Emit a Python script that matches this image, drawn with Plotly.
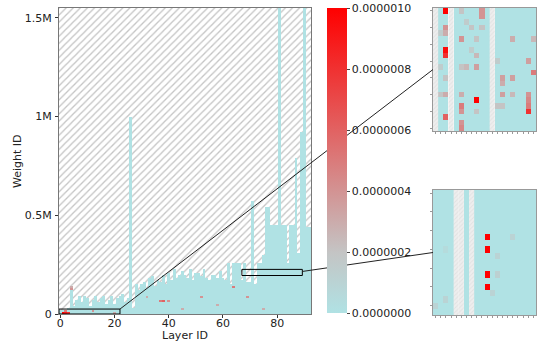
import plotly.graph_objects as go

# ---------------- data ----------------
N_LAYERS = 93
ROW = 10000            # weights per heatmap row in the overview
Y_MAX = 1550000

# number of weights per layer (thousands)
LAYER_SIZE_K = [
    15, 20, 10, 25, 135, 40, 70, 85, 60, 85,
    75, 40, 70, 85, 55, 80, 85, 45, 65, 85,
    50, 75, 90, 95, 60, 80, 1000, 30, 150, 120,
    150, 160, 130, 175, 185, 140, 165, 160, 195, 150,
    205, 170, 225, 180, 195, 220, 200, 175, 225, 170,
    205, 210, 185, 225, 180, 170, 200, 195, 175, 220,
    175, 170, 255, 150, 260, 255, 260, 170, 260, 160,
    155, 567, 150, 264, 264, 300, 540, 540, 450, 450,
    450, 1550, 450, 450, 264, 450, 450, 790, 308, 920,
    1550, 440, 440,
]

# sensitive weights in the overview: (layer, weight id, value)
SPECK_LAYER = [1, 2, 3, 2, 4, 4, 12, 20, 37, 38, 40, 32, 52, 64, 69, 45, 58, 75]
SPECK_WEIGHT = [5000, 5000, 5000, 15000, 125000, 135000, 15000, 5000, 65000, 65000,
                65000, 85000, 85000, 135000, 85000, 25000, 45000, 25000]
SPECK_VALUE = [1.0e-6, 9e-7, 8e-7, 5e-7, 4e-7, 3e-7, 4e-7, 3e-7, 5e-7, 6e-7,
               4e-7, 3e-7, 4e-7, 5e-7, 4e-7, 3e-7, 3e-7, 3e-7]

# zoomed regions (layer range, weight range)
ZOOM1_X = [-0.5, 22.0]
ZOOM1_Y = [0, 25000]
ZOOM2_X = [67.0, 89.3]
ZOOM2_Y = [195000, 226000]

# inset 1 (20 x 22 cells)
IN1_COLS, IN1_ROWS = 20, 22
IN1_STRIPES = [0, 3, 11]
IN1_COL = [2, 2, 2, 2, 2, 2, 2, 2, 1, 1, 1, 5, 5, 5, 5, 5, 5, 5, 5, 6, 6, 7, 7,
           8, 8, 8, 8, 8, 9, 9, 9, 12, 12, 13, 13, 13, 13, 15, 15, 15,
           18, 18, 18, 18, 18, 19, 19]
IN1_ROW = [0, 3, 4, 7, 8, 12, 15, 19, 4, 10, 15, 0, 5, 10, 15, 17, 18, 20, 21, 2, 10, 3, 7,
           5, 8, 10, 16, 18, 0, 1, 3, 9, 17, 12, 13, 15, 17, 5, 12, 15,
           9, 15, 16, 17, 18, 5, 11]
IN1_VAL_E7 = [10, 4, 3, 9.5, 8, 2, 3, 6, 1.5, 1.5, 2, 2, 4, 2, 3, 5, 4, 4, 4.5, 1.5, 2.5, 2, 1.5,
              2, 2.5, 3.5, 10, 2, 4, 4, 2, 1.5, 2, 3.5, 3, 3.5, 2, 3, 3.5, 2.5,
              3.5, 4, 4.5, 5, 8, 2.5, 5]

# inset 2 (20 x 20 cells)
IN2_COLS, IN2_ROWS = 20, 20
IN2_STRIPES = [4, 5, 7]
IN2_COL = [10, 10, 10, 10, 15, 12, 12, 11, 2, 0, 2]
IN2_ROW = [7, 9, 13, 15, 7, 10, 13, 16, 17, 18, 9]
IN2_VAL_E7 = [10, 10, 10, 10, 1, 1, 1.2, 1, 1, 1, 0.5]

CB_TICKS = [0, 2e-7, 4e-7, 6e-7, 8e-7, 1e-6]
X_TICKS = [0, 20, 40, 60, 80]
Y_TICKS = [0, 500000, 1000000, 1500000]
Y_TICK_TEXT = ["0", "0.5M", "1M", "1.5M"]
X_TITLE = "Layer ID"
Y_TITLE = "Weight ID"

# ---------------- layout geometry ----------------
W, H = 542, 347
MAIN_X = [59 / W, 311 / W]
MAIN_Y = [(H - 314) / H, (H - 8) / H]
IN1_XD = [433 / W, 536 / W]
IN1_YD = [(H - 131) / H, (H - 8) / H]
IN2_XD = [433 / W, 536 / W]
IN2_YD = [(H - 315) / H, (H - 190) / H]
X_RANGE = [-0.5, N_LAYERS - 0.5]

FONT = "DejaVu Sans"
FS = 11
CSCALE = [[0, "#b0e2e4"], [0.2, "#c4c4c4"], [1, "#ff0000"]]

# ---------------- build grids ----------------
n_rows = Y_MAX // ROW
main_z = []
for r in range(n_rows):
    yc = (r + 0.5) * ROW
    main_z.append([0.0 if yc <= LAYER_SIZE_K[c] * 1000 else None for c in range(N_LAYERS)])
for l, w, v in zip(SPECK_LAYER, SPECK_WEIGHT, SPECK_VALUE):
    main_z[int(w // ROW)][l] = v


def inset_grid(ncols, nrows, stripes, cols, rows, vals):
    z = [[None if c in stripes else 0.0 for c in range(ncols)] for _ in range(nrows)]
    for c, r, v in zip(cols, rows, vals):
        z[r][c] = v * 1e-7
    return z


in1_z = inset_grid(IN1_COLS, IN1_ROWS, IN1_STRIPES, IN1_COL, IN1_ROW, IN1_VAL_E7)
in2_z = inset_grid(IN2_COLS, IN2_ROWS, IN2_STRIPES, IN2_COL, IN2_ROW, IN2_VAL_E7)

fig = go.Figure()

# hatched background of the overview (base subplot)
fig.add_trace(go.Bar(
    x=[(X_RANGE[0] + X_RANGE[1]) / 2], y=[Y_MAX], base=0, width=[X_RANGE[1] - X_RANGE[0]],
    marker=dict(color="white", line=dict(width=0),
                pattern=dict(shape="/", fgcolor="#8a8a8a", bgcolor="white", size=5, solidity=0.26)),
    xaxis="x", yaxis="y", hoverinfo="skip", showlegend=False))

# overview heatmap (overlay subplot, drawn above the hatch)
fig.add_trace(go.Heatmap(
    z=main_z, x=list(range(N_LAYERS)), y=[(r + 0.5) * ROW for r in range(n_rows)],
    coloraxis="coloraxis", xaxis="x2", yaxis="y2", hoverongaps=False))

# insets
for z, ncols, nrows, stripes, xa, ya in [
        (in1_z, IN1_COLS, IN1_ROWS, IN1_STRIPES, "x3", "y3"),
        (in2_z, IN2_COLS, IN2_ROWS, IN2_STRIPES, "x4", "y4")]:
    fig.add_trace(go.Heatmap(z=z, x=list(range(ncols)), y=list(range(nrows)),
                             coloraxis="coloraxis", xaxis=xa, yaxis=ya, hoverongaps=False))
    fig.add_trace(go.Bar(
        x=stripes, y=[nrows] * len(stripes), base=-0.5, width=[1] * len(stripes),
        marker=dict(color="#ececec", line=dict(width=0),
                    pattern=dict(shape="/", fgcolor="#d6d6d6", bgcolor="#eeeeee", size=3, solidity=0.3)),
        xaxis=xa, yaxis=ya, hoverinfo="skip", showlegend=False))

axis_common = dict(showgrid=False, zeroline=False, showline=True, mirror=True,
                   linecolor="#777777", linewidth=1, ticks="outside", ticklen=3,
                   tickcolor="#333333", automargin=False,
                   tickfont=dict(family=FONT, size=FS, color="#222222"))


def px(x):
    return MAIN_X[0] + (x - X_RANGE[0]) / (X_RANGE[1] - X_RANGE[0]) * (MAIN_X[1] - MAIN_X[0])


def py(y):
    return MAIN_Y[0] + y / Y_MAX * (MAIN_Y[1] - MAIN_Y[0])


shapes = []
for xr, yr in [(ZOOM1_X, ZOOM1_Y), (ZOOM2_X, ZOOM2_Y)]:
    shapes.append(dict(type="rect", xref="x", yref="y", x0=xr[0], x1=xr[1], y0=yr[0], y1=yr[1],
                       line=dict(color="black", width=1), fillcolor="rgba(0,0,0,0)", layer="above"))
# connectors
shapes.append(dict(type="line", xref="paper", yref="paper",
                   x0=px(ZOOM1_X[1]), y0=py(ZOOM1_Y[1]),
                   x1=IN1_XD[0], y1=(IN1_YD[0] + IN1_YD[1]) / 2,
                   line=dict(color="#222222", width=1)))
shapes.append(dict(type="line", xref="paper", yref="paper",
                   x0=px(ZOOM2_X[1]), y0=py((ZOOM2_Y[0] + ZOOM2_Y[1]) / 2 + 5000),
                   x1=IN2_XD[0], y1=(IN2_YD[0] + IN2_YD[1]) / 2,
                   line=dict(color="#222222", width=1)))

inset_axis = dict(showgrid=False, zeroline=False, showline=True, mirror=True,
                  linecolor="#999999", linewidth=1, ticks="outside", ticklen=2,
                  tickcolor="#999999", showticklabels=False, automargin=False)

annotations = [
    dict(text=X_TITLE, xref="paper", yref="paper", x=(MAIN_X[0] + MAIN_X[1]) / 2, y=(H - 335) / H,
         xanchor="center", yanchor="middle", showarrow=False,
         font=dict(family=FONT, size=FS, color="#222222")),
    dict(text=Y_TITLE, xref="paper", yref="paper", x=18 / W, y=(MAIN_Y[0] + MAIN_Y[1]) / 2,
         xanchor="center", yanchor="middle", showarrow=False, textangle=-90,
         font=dict(family=FONT, size=FS, color="#222222")),
]

fig.update_layout(
    width=W, height=H, margin=dict(l=0, r=0, t=0, b=0, autoexpand=False),
    paper_bgcolor="white", plot_bgcolor="rgba(0,0,0,0)",
    barmode="overlay", showlegend=False,
    font=dict(family=FONT, size=FS, color="#222222"),
    xaxis=dict(domain=MAIN_X, range=X_RANGE, tickvals=X_TICKS, anchor="y",
               ticklabelstandoff=-4, **axis_common),
    yaxis=dict(domain=MAIN_Y, range=[0, Y_MAX], tickvals=Y_TICKS, ticktext=Y_TICK_TEXT, anchor="x",
               ticklabelstandoff=1, **axis_common),
    xaxis2=dict(overlaying="x", range=X_RANGE, visible=False, anchor="y2"),
    yaxis2=dict(overlaying="y", range=[0, Y_MAX], visible=False, anchor="x2"),
    xaxis3=dict(domain=IN1_XD, range=[-0.5, IN1_COLS - 0.5], anchor="y3", dtick=1, **inset_axis),
    yaxis3=dict(domain=IN1_YD, range=[IN1_ROWS - 0.5, -0.5], anchor="x3", dtick=3, **inset_axis),
    xaxis4=dict(domain=IN2_XD, range=[-0.5, IN2_COLS - 0.5], anchor="y4", dtick=1, **inset_axis),
    yaxis4=dict(domain=IN2_YD, range=[IN2_ROWS - 0.5, -0.5], anchor="x4", dtick=3, **inset_axis),
    coloraxis=dict(colorscale=CSCALE, cmin=0, cmax=1e-6,
                   colorbar=dict(x=327 / W, xanchor="left", thickness=20, xpad=0, ypad=0,
                                 lenmode="pixels", len=305, y=(H - 160.5) / H, yanchor="middle",
                                 outlinewidth=0, tickvals=CB_TICKS, tickformat=".7f",
                                 ticks="outside", ticklen=3,
                                 tickfont=dict(family=FONT, size=FS, color="#222222"))),
    shapes=shapes,
    annotations=annotations,
)

fig.write_html("out.html")
